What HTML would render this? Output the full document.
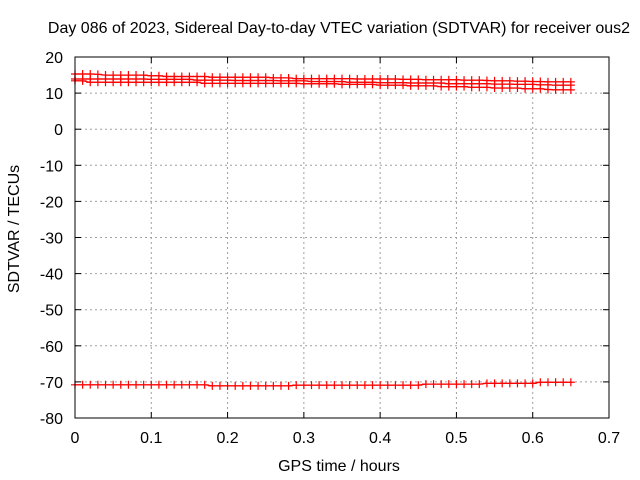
<!DOCTYPE html>
<html><head><meta charset="utf-8"><style>
body{margin:0;background:#fff}
svg{display:block;font-family:"Liberation Sans",sans-serif;font-size:16px}
</style></head><body>
<svg id="chart" width="640" height="480">
<text x="339" y="33" text-anchor="middle">Day 086 of 2023, Sidereal Day-to-day VTEC variation (SDTVAR) for receiver ous2</text>
<text x="339" y="471" text-anchor="middle">GPS time / hours</text>
<text transform="translate(19,229) rotate(-90)" text-anchor="middle">SDTVAR / TECUs</text>
<g id="grid"></g><g id="ticks"></g><g id="series"></g>
<rect x="75" y="57" width="534" height="361" fill="none" stroke="#000"/>
</svg>
<script>
const xTicks=[0,0.1,0.2,0.3,0.4,0.5,0.6,0.7];
const xTickLabels=["0","0.1","0.2","0.3","0.4","0.5","0.6","0.7"];
const yTicks=[20,10,0,-10,-20,-30,-40,-50,-60,-70,-80];
const yTickLabels=["20","10","0","-10","-20","-30","-40","-50","-60","-70","-80"];
const xStep=0.01;
const seriesA=[15.3,15.3,15.3,15.2,15.0,15.0,15.0,15.0,15.0,15.0,14.8,14.8,14.6,14.6,14.6,14.6,14.6,14.6,14.4,14.4,14.4,14.4,14.4,14.4,14.4,14.4,14.2,14.2,14.2,14.0,14.0,14.0,14.0,14.0,14.0,14.0,14.0,13.9,13.9,13.9,13.9,13.9,13.9,13.8,13.8,13.8,13.7,13.7,13.7,13.7,13.7,13.6,13.6,13.6,13.5,13.4,13.4,13.4,13.3,13.3,13.2,13.2,13.1,13.1,13.1,13.1];
const seriesB=[13.9,13.9,13.9,13.9,13.9,13.9,13.9,13.9,13.9,13.9,13.8,13.8,13.8,13.8,13.8,13.8,13.6,13.6,13.6,13.6,13.6,13.5,13.5,13.5,13.5,13.5,13.5,13.4,13.4,13.4,13.4,13.2,13.2,13.2,13.2,13.2,13.0,13.0,13.0,13.0,12.9,12.9,12.9,12.9,12.8,12.8,12.8,12.8,12.8,12.6,12.6,12.6,12.6,12.6,12.6,12.5,12.5,12.5,12.4,12.4,12.4,12.3,12.3,12.2,12.2,12.2];
const seriesC=[13.4,13.4,13.0,13.0,13.0,13.0,13.0,13.0,13.0,13.0,13.0,13.0,13.0,13.0,13.0,13.0,13.0,12.7,12.7,12.7,12.7,12.7,12.7,12.7,12.7,12.7,12.7,12.7,12.7,12.7,12.6,12.6,12.6,12.6,12.6,12.4,12.4,12.4,12.4,12.4,12.2,12.2,12.2,12.2,12.0,12.0,12.0,12.0,11.8,11.8,11.8,11.8,11.6,11.6,11.6,11.4,11.4,11.4,11.4,11.2,11.2,11.2,11.0,10.9,10.9,10.9];
const seriesD=[-70.8,-70.8,-70.8,-70.8,-70.8,-70.8,-70.8,-70.8,-70.8,-70.8,-70.8,-70.8,-70.8,-70.8,-70.8,-70.8,-70.8,-70.8,-71.1,-71.1,-71.1,-71.1,-71.1,-71.1,-71.1,-71.1,-71.1,-71.1,-71.1,-70.9,-70.9,-70.9,-70.9,-70.9,-70.9,-70.9,-70.9,-70.9,-70.9,-70.9,-70.9,-70.9,-70.9,-70.9,-70.9,-70.9,-70.6,-70.6,-70.6,-70.6,-70.6,-70.6,-70.6,-70.6,-70.4,-70.4,-70.4,-70.4,-70.4,-70.4,-70.4,-70.1,-70.1,-70.1,-70.1,-70.1];
const NS="http://www.w3.org/2000/svg";
const X0=75,X1=609,Y0=418,Y1=57;
function sx(v){return X0+(v-0)/(0.7-0)*(X1-X0);}
function sy(v){return Y0-(v-(-80))/(20-(-80))*(Y0-Y1);}
function mk(tag,attrs,parent){const e=document.createElementNS(NS,tag);for(const k in attrs)e.setAttribute(k,attrs[k]);parent.appendChild(e);return e;}
const grid=document.getElementById('grid'),ticks=document.getElementById('ticks'),ser=document.getElementById('series');
xTicks.forEach((t,i)=>{const x=sx(t);
 if(i>0&&i<xTicks.length-1){const g=mk('line',{x1:x,x2:x,y1:Y1,y2:Y0,stroke:'#a0a0a0','stroke-dasharray':'2,3'},grid);
 
 }
 mk('line',{x1:x,x2:x,y1:Y0,y2:Y0-6,stroke:'#000'},ticks);
 mk('line',{x1:x,x2:x,y1:Y1,y2:Y1+6,stroke:'#000'},ticks);
 const l=mk('text',{x:x,y:443,'text-anchor':'middle'},ticks);l.textContent=xTickLabels[i];
 
 
});
yTicks.forEach((t,i)=>{const y=sy(t);
 if(i>0&&i<yTicks.length-1){const g=mk('line',{x1:X0,x2:X1,y1:y,y2:y,stroke:'#a0a0a0','stroke-dasharray':'2,3'},grid);
 
 }
 mk('line',{x1:X0,x2:X0+6,y1:y,y2:y,stroke:'#000'},ticks);
 mk('line',{x1:X1,x2:X1-6,y1:y,y2:y,stroke:'#000'},ticks);
 const l=mk('text',{x:63,y:y+6,'text-anchor':'end'},ticks);l.textContent=yTickLabels[i];
 
 
});
[seriesA,seriesB,seriesC,seriesD].forEach((s,si)=>{
 const g=mk('g',{},ser);
 
 
 const pts=s.map((v,i)=>sx(i*xStep).toFixed(1)+','+sy(v).toFixed(1)).join(' ');
 mk('polyline',{points:pts,fill:'none',stroke:'#ff0000','stroke-width':1.2},g);
 s.forEach((v,i)=>{const x=sx(i*xStep),y=sy(v);
  const p=mk('path',{d:`M${x-4},${y}H${x+4}M${x},${y-4}V${y+4}`,stroke:'#ff0000','stroke-width':1.2},g);
  
  
 });
});
</script>
</body></html>
